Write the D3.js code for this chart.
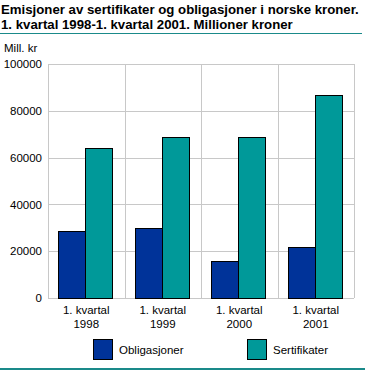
<!DOCTYPE html>
<html><head><meta charset="utf-8">
<script src="https://cdn.jsdelivr.net/npm/d3@7"></script>
<style>body{margin:0;background:#fff}svg{display:block}text{font-family:"Liberation Sans",Arial,sans-serif}</style>
</head><body>
<script>
const categories = [["1. kvartal","1998"],["1. kvartal","1999"],["1. kvartal","2000"],["1. kvartal","2001"]];
const seriesNames = ["Obligasjoner","Sertifikater"];
const obligasjoner = [28500, 29800, 15700, 21700];
const sertifikater = [64300, 69000, 68700, 86700];
const yTicks = [0,20000,40000,60000,80000,100000];
const colors = ["#003399","#009999"];

const W=365,H=370;
const svg=d3.select("body").append("svg").attr("width",W).attr("height",H);
const m={l:48,r:11,t:64,b:72};
const x=d3.scaleBand().domain(d3.range(categories.length)).range([m.l,W-m.r]);
const y=d3.scaleLinear().domain([0,100000]).range([H-m.b,m.t]);
const xs=d3.scaleBand().domain([0,1]).range([0,x.bandwidth()]).paddingInner(0).paddingOuter(0.42).align(0.45);

// title
const lines=["Emisjoner av sertifikater og obligasjoner i norske kroner.","1. kvartal 1998-1. kvartal 2001. Millioner kroner"];
const tf="'DejaVu Sans Condensed','DejaVu Sans',sans-serif";
const t1=svg.append("text").attr("x",1).attr("y",13.5).attr("font-family",tf).attr("font-size",13).attr("font-weight","bold").text(lines[0]);
const w1=t1.node().getComputedTextLength();
const fs=Math.min(14,13*358/w1);
t1.attr("font-size",fs);
svg.append("text").attr("x",1).attr("y",29).attr("font-family",tf).attr("font-size",fs).attr("font-weight","bold").text(lines[1]);
svg.append("line").attr("x1",0).attr("x2",362).attr("y1",33.5).attr("y2",33.5).attr("stroke","#1a8a8a").attr("stroke-width",1);
svg.append("line").attr("x1",0).attr("x2",365).attr("y1",369).attr("y2",369).attr("stroke","#1a8a8a").attr("stroke-width",2);

svg.append("text").attr("x",4).attr("y",52).attr("font-size",11.5).text("Mill. kr");

// grid
const g=svg.append("g");
g.selectAll(".hg").data(yTicks).join("line").attr("x1",m.l).attr("x2",W-m.r)
 .attr("y1",d=>Math.round(y(d))+0.5).attr("y2",d=>Math.round(y(d))+0.5).attr("stroke","#c8c8c8");
const vx=d3.range(categories.length+1).map(i=>i<categories.length?x(i):x(categories.length-1)+x.bandwidth());
g.selectAll(".vg").data(vx).join("line").attr("x1",d=>Math.round(d)+0.5).attr("x2",d=>Math.round(d)+0.5)
 .attr("y1",y(100000)).attr("y2",y(0)).attr("stroke","#c8c8c8");

// y axis labels
const ya=d3.axisLeft(y).tickValues(yTicks).tickSize(0).tickPadding(6).tickFormat(d3.format("d"));
const yg=svg.append("g").attr("transform",`translate(${m.l},0)`).call(ya);
yg.select(".domain").remove();
yg.selectAll("text").attr("font-size",11.5).attr("font-family","Liberation Sans").attr("fill","#000");

// bars
const data=[obligasjoner,sertifikater];
data.forEach((vals,si)=>{
  svg.append("g").selectAll("rect").data(vals).join("rect")
   .attr("x",(d,i)=>Math.round(x(i)+xs(si))+0.5)
   .attr("width",Math.round(xs.bandwidth()))
   .attr("y",d=>Math.round(y(d))+0.5)
   .attr("height",d=>Math.round(y(0))-Math.round(y(d)))
   .attr("fill",colors[si]).attr("stroke","#000").attr("stroke-width",1);
});

// x labels
const xl=svg.append("g");
categories.forEach((c,i)=>{
  const cx=x(i)+x.bandwidth()/2;
  const tt=xl.append("text").attr("text-anchor","middle").attr("font-size",11.5).attr("fill","#000");
  tt.append("tspan").attr("x",cx).attr("y",314).text(c[0]);
  tt.append("tspan").attr("x",cx).attr("y",328).text(c[1]);
});

// legend
const lx=[93,247];
seriesNames.forEach((n,i)=>{
  svg.append("rect").attr("x",lx[i]+0.5).attr("y",339.5).attr("width",19).attr("height",20)
   .attr("fill",colors[i]).attr("stroke","#000");
  svg.append("text").attr("x",lx[i]+26).attr("y",354).attr("font-size",11.5).text(n);
});
</script>
</body></html>
